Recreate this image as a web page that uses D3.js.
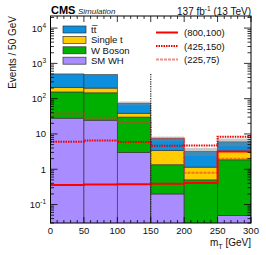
<!DOCTYPE html>
<html lang="en">
<head>
<meta charset="UTF-8">
<title>CMS mT stack</title>
<style>
  body { margin: 0; background: #fff; }
  svg { display: block; font-family: "Liberation Sans", Arial, sans-serif; }
</style>
</head>
<body>
<div id="chart"></div>
<script src="https://d3js.org/d3.v7.min.js"></script>
<script>
// bin edges (GeV)
const binEdges = [0, 50, 100, 150, 200, 250, 300];

// backgrounds, stacked from bottom to top
const smWH    = [28, 24.5, 3.0, 0.2, 0, 0.049];
const wBoson  = [127, 122, 27, 1.14, 0.5, 1.8];
const singleT = [55, 53, 8.7, 2.06, 0.65, 1.4];
const ttbar   = [290, 280, 35.3, 4.0, 2.05, 2.7];
const uncFrac = [0.02, 0.02, 0.12, 0.14, 0.25, 0.25];

// signal points
const sig800 = [0.36, 0.37, 0.375, 0.39, 0.41, 3.2];
const sig425 = [6.0, 6.5, 5.9, 4.6, 4.7, 8.4];
const sig225 = [37.7, 29, 21.5, 7.3, 0.8, 2.0];

const xTicks = [0, 50, 100, 150, 200, 250, 300];
const yExps = [-1, 0, 1, 2, 3, 4];

const W = 266, H = 255;
const pLeft = 50.5, pRight = 251, pTop = 16, pBottom = 223;

const x = d3.scaleLinear().domain([0, 300]).range([pLeft, pRight]);
const y = d3.scaleLog().domain([0.03, 2.2e4]).range([pBottom, pTop]);

const svg = d3.select("#chart").append("svg").attr("width", W).attr("height", H);

svg.append("defs").append("clipPath").attr("id", "plot")
  .append("rect").attr("x", pLeft).attr("y", pTop).attr("width", pRight - pLeft).attr("height", pBottom - pTop);

const plot = svg.append("g").attr("clip-path", "url(#plot)");

// stacked histogram
const comps = [
  {vals: smWH, color: "#a98cff"},
  {vals: wBoson, color: "#00b000"},
  {vals: singleT, color: "#ffcc00"},
  {vals: ttbar, color: "#0c8fdc"}
];
const nb = binEdges.length - 1;
let base = new Array(nb).fill(0);
comps.forEach(c => {
  for (let i = 0; i < nb; i++) {
    const lo = base[i], hi = base[i] + c.vals[i];
    base[i] = hi;
    if (c.vals[i] <= 0) continue;
    const y0 = lo > 0 ? y(lo) : pBottom + 5;
    plot.append("rect")
      .attr("x", x(binEdges[i]))
      .attr("width", x(binEdges[i + 1]) - x(binEdges[i]))
      .attr("y", y(hi))
      .attr("height", y0 - y(hi))
      .attr("fill", c.color)
      .attr("stroke", "#3a3a3a")
      .attr("stroke-width", 0.7);
  }
});

// uncertainty band
base.forEach((t, i) => {
  plot.append("rect")
    .attr("x", x(binEdges[i]))
    .attr("width", x(binEdges[i + 1]) - x(binEdges[i]))
    .attr("y", y(t * (1 + uncFrac[i])))
    .attr("height", y(t * (1 - uncFrac[i])) - y(t * (1 + uncFrac[i])))
    .attr("fill", "#888")
    .attr("opacity", 0.45);
});

// signal step lines
function stepPath(vals) {
  const pts = [];
  vals.forEach((v, i) => {
    pts.push([x(binEdges[i]), y(v)]);
    pts.push([x(binEdges[i + 1]), y(v)]);
  });
  return d3.line()(pts);
}
const sigStyles = [
  {vals: sig800, color: "#ff0000", dash: null, op: 1, label: "(800,100)"},
  {vals: sig425, color: "#ee0000", dash: "1.5,1", op: 1, label: "(425,150)"},
  {vals: sig225, color: "#e83030", dash: "3,1", op: 0.55, label: "(225,75)"}
];
sigStyles.slice().reverse().forEach(s => {
  plot.append("path")
    .attr("d", stepPath(s.vals))
    .attr("fill", "none")
    .attr("stroke", s.color)
    .attr("stroke-width", 2)
    .attr("stroke-dasharray", s.dash)
    .attr("opacity", s.op);
});

// dotted separator at 150 GeV
svg.append("line")
  .attr("x1", x(150)).attr("x2", x(150))
  .attr("y1", y(500)).attr("y2", pBottom)
  .attr("stroke", "#222").attr("stroke-width", 1.2)
  .attr("stroke-dasharray", "1.2,1.2");

// frame
svg.append("rect")
  .attr("x", pLeft).attr("y", pTop).attr("width", pRight - pLeft).attr("height", pBottom - pTop)
  .attr("fill", "none").attr("stroke", "#000").attr("stroke-width", 1);

// x ticks (bottom and top, inside)
const ax = svg.append("g").attr("stroke", "#000").attr("stroke-width", 0.8);
d3.range(0, 301, 10).forEach(v => {
  const len = v % 50 === 0 ? 6 : 3;
  ax.append("line").attr("x1", x(v)).attr("x2", x(v)).attr("y1", pBottom).attr("y2", pBottom - len);
  ax.append("line").attr("x1", x(v)).attr("x2", x(v)).attr("y1", pTop).attr("y2", pTop + len);
});
// y ticks (left and right, inside)
for (let e = -2; e <= 4; e++) {
  for (let m = 1; m <= 9; m++) {
    const v = m * Math.pow(10, e);
    if (v < 0.03 || v > 2.2e4) continue;
    const len = m === 1 ? 7 : 3.5;
    ax.append("line").attr("x1", pLeft).attr("x2", pLeft + len).attr("y1", y(v)).attr("y2", y(v));
    ax.append("line").attr("x1", pRight).attr("x2", pRight - len).attr("y1", y(v)).attr("y2", y(v));
  }
}

// tick labels
svg.append("g").selectAll("text").data(xTicks).join("text")
  .attr("x", d => x(d)).attr("y", 234)
  .attr("text-anchor", "middle").attr("font-size", 9.5).attr("fill", "#111")
  .text(d => d);

const yl = svg.append("g").attr("font-size", 9.5).attr("fill", "#111");
yExps.forEach(e => {
  const t = yl.append("text").attr("x", 46).attr("y", y(Math.pow(10, e)) + 3.5).attr("text-anchor", "end");
  if (e === 0) t.text("1");
  else if (e === 1) t.text("10");
  else {
    t.append("tspan").text("10");
    t.append("tspan").attr("dy", -4).attr("font-size", 6.5).text(e);
  }
});

// axis titles
svg.append("text")
  .attr("x", pRight).attr("y", 246).attr("text-anchor", "end")
  .attr("font-size", 10).attr("fill", "#111")
  .call(t => {
    t.append("tspan").text("m");
    t.append("tspan").attr("dy", 2.5).attr("font-size", 7).text("T");
    t.append("tspan").attr("dy", -2.5).text(" [GeV]");
  });
svg.append("text")
  .attr("transform", `translate(16,${pTop}) rotate(-90)`)
  .attr("text-anchor", "end").attr("font-size", 10).attr("fill", "#111")
  .text("Events / 50 GeV");

// header
svg.append("text").attr("x", 51).attr("y", 14)
  .attr("font-size", 11).attr("font-weight", "bold").text("CMS");
svg.append("text").attr("x", 78).attr("y", 14)
  .attr("font-size", 8).attr("font-style", "italic").attr("fill", "#222").text("Simulation");
svg.append("text").attr("x", 251).attr("y", 15).attr("text-anchor", "end")
  .attr("font-size", 10).attr("fill", "#111")
  .call(t => {
    t.append("tspan").text("137 fb");
    t.append("tspan").attr("dy", -4).attr("font-size", 6.5).text("-1");
    t.append("tspan").attr("dy", 4).text(" (13 TeV)");
  });

// background legend
const bgLegend = [
  {label: "tt\u0305", color: "#0c8fdc"},
  {label: "Single t", color: "#ffcc00"},
  {label: "W Boson", color: "#00b000"},
  {label: "SM WH", color: "#a98cff"}
];
bgLegend.forEach((d, i) => {
  const cy = 29.5 + i * 10.4;
  svg.append("rect").attr("x", 63).attr("y", cy - 3.5).attr("width", 23).attr("height", 7)
    .attr("fill", d.color).attr("stroke", "#333").attr("stroke-width", 0.7);
  svg.append("text").attr("x", 91).attr("y", cy + 3.5)
    .attr("font-size", 9.5).attr("fill", "#111").text(d.label);
});

// signal legend
sigStyles.forEach((s, i) => {
  const cy = 32.5 + i * 13.5;
  svg.append("line").attr("x1", 156).attr("x2", 178).attr("y1", cy).attr("y2", cy)
    .attr("stroke", s.color).attr("stroke-width", 2)
    .attr("stroke-dasharray", s.dash).attr("opacity", s.op);
  svg.append("text").attr("x", 184).attr("y", cy + 3.5)
    .attr("font-size", 9.5).attr("fill", "#111").text(s.label);
});
</script>
</body>
</html>
